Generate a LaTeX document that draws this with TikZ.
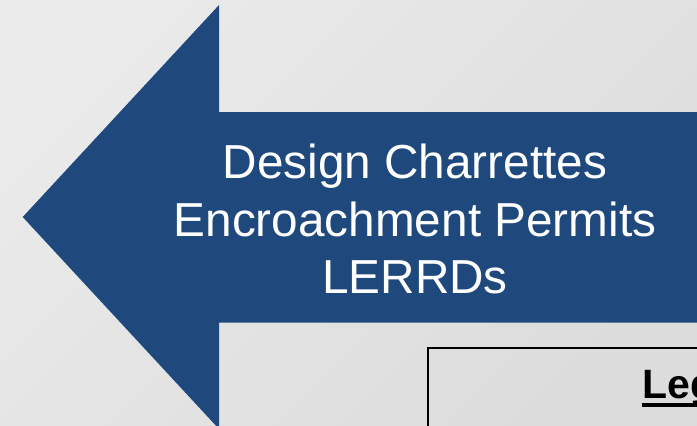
\documentclass[tikz,border=0pt]{standalone}
\usepackage{fontspec}
\setmainfont{Liberation Sans}
\definecolor{arrowblue}{HTML}{1F497D}
\definecolor{bglight}{HTML}{EAEAEA}
\definecolor{bgdark}{HTML}{DCDCDC}

\begin{document}
\begin{tikzpicture}[x=1pt,y=-1pt,
	arrowtext/.style={text=white,align=center,inner sep=0pt,font=\fontsize{47.7}{57.8}\selectfont},
	legendtext/.style={inner sep=0pt,font=\fontsize{41}{48}\selectfont\bfseries}]
	\def\w{697}
	\def\h{426}
	\def\hx{219}
	\useasboundingbox (0,0) rectangle (\w,\h);
	\clip (0,0) rectangle (\w,\h);
	\shade[top color=bglight, bottom color=bgdark, shading angle=45] (0,0) rectangle (\w,\h);
	\fill[arrowblue] (22.7,217) -- (\hx,5) -- (\hx,112) -- (\w+20,112) -- (\w+20,322.5) -- (\hx,322.5) -- (\hx,429) -- cycle;
	\node[arrowtext] (steps) at (415,219) {Design Charrettes\\Encroachment Permits\\LERRDs};
	\draw[line width=2pt] (\w+20,348) -- (427.5,348) -- (427.5,\h+20);
	\node[legendtext,anchor=base west] (legendtitle) at (642,398.3) {Legend};
	\draw[line width=4pt] ([yshift=-7pt]legendtitle.base west) -- ([yshift=-7pt]legendtitle.base east);
\end{tikzpicture}
\end{document}
